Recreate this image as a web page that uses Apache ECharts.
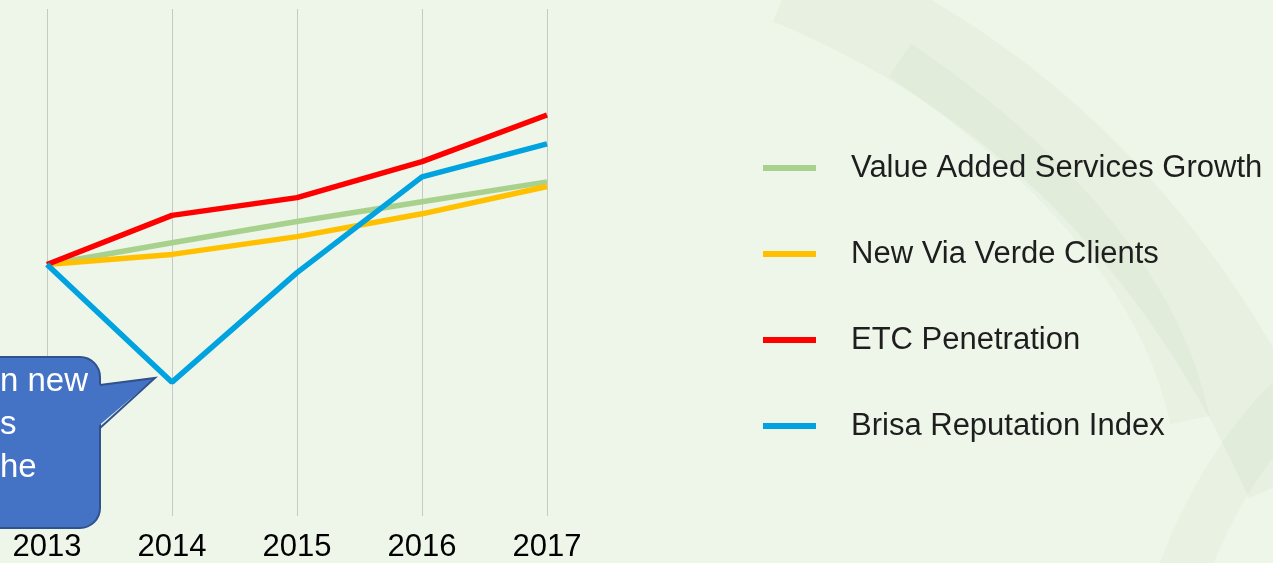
<!DOCTYPE html>
<html>
<head>
<meta charset="utf-8">
<script src="https://cdn.jsdelivr.net/npm/echarts@6/dist/echarts.min.js"></script>
<style>
html,body{margin:0;padding:0;background:#eef6e9;}
#c{width:1273px;height:563px;}
</style>
</head>
<body>
<div id="c"></div>
<script>
const years = ['2013', '2014', '2015', '2016', '2017'];
const seriesNames = ['Value Added Services Growth', 'New Via Verde Clients', 'ETC Penetration', 'Brisa Reputation Index'];
const valueAdded = [49.6, 53.9, 58.1, 62.0, 65.9];
const viaVerde = [49.6, 51.6, 55.1, 59.6, 65.0];
const etc = [49.6, 59.3, 62.8, 69.9, 79.1];
const reputation = [49.6, 26.4, 48.0, 66.9, 73.4];
const calloutLines = ['n new', 's', 'he'];

const colors = ['#a9d18e', '#ffc000', '#ff0000', '#00a3e0'];
const values = [valueAdded, viaVerde, etc, reputation];
const boxFill = '#4472c4';
const boxStroke = '#2f528f';

const chart = echarts.init(document.getElementById('c'));
chart.setOption({
  backgroundColor: '#eef6e9',
  animation: false,
  grid: { left: 47, right: 726, top: 9, bottom: 46 },
  xAxis: {
    type: 'category',
    data: years,
    boundaryGap: false,
    axisLine: { show: false },
    axisTick: { show: false },
    splitLine: { show: true, lineStyle: { color: '#c6c9c4', width: 1 } },
    axisLabel: { margin: 16, fontSize: 31, color: '#000', fontFamily: 'Liberation Sans' }
  },
  yAxis: { type: 'value', min: 0, max: 100, show: false, splitLine: { show: false } },
  legend: {
    orient: 'vertical',
    left: 758,
    top: 147,
    icon: 'rect',
    itemWidth: 53,
    itemHeight: 6,
    itemGap: 54,
    textStyle: { fontSize: 31, color: '#1e1e1e', fontFamily: 'Liberation Sans', padding: [0, 0, 0, 30], lineHeight: 32 },
    data: seriesNames
  },
  graphic: [
    { type: 'bezierCurve', silent: true, z: -10,
      shape: { x1: 790, y1: -20, cpx1: 1130, cpy1: 120, x2: 1290, y2: 480 },
      style: { fill: null, stroke: 'rgba(190,205,180,0.13)', lineWidth: 90 } },
    { type: 'bezierCurve', silent: true, z: -10,
      shape: { x1: 900, y1: 60, cpx1: 1150, cpy1: 230, x2: 1190, y2: 420 },
      style: { fill: null, stroke: 'rgba(190,205,180,0.12)', lineWidth: 40 } },
    { type: 'bezierCurve', silent: true, z: -10,
      shape: { x1: 1290, y1: 400, cpx1: 1220, cpy1: 470, x2: 1180, y2: 580 },
      style: { fill: null, stroke: 'rgba(190,205,180,0.12)', lineWidth: 50 } },
    { type: 'rect', silent: true, z: 100,
      shape: { x: -40, y: 357, width: 140, height: 171, r: 20 },
      style: { fill: boxFill, stroke: boxStroke, lineWidth: 2 } },
    { type: 'polygon', silent: true, z: 101,
      shape: { points: [[96, 385], [155, 378], [96, 428]] },
      style: { fill: boxFill } },
    { type: 'polyline', silent: true, z: 102,
      shape: { points: [[100, 385], [155, 378], [100, 428]] },
      style: { fill: null, stroke: boxStroke, lineWidth: 2 } },
    { type: 'text', silent: true, z: 103, left: 0, top: 360,
      style: { text: calloutLines.join('\n'), fill: '#ffffff', font: '33px "Liberation Sans"', lineHeight: 43 } }
  ],
  series: seriesNames.map((n, i) => ({
    name: n,
    type: 'line',
    data: values[i],
    symbol: 'none',
    lineStyle: { color: colors[i], width: 5.5 },
    itemStyle: { color: colors[i] }
  }))
});
</script>
</body>
</html>
